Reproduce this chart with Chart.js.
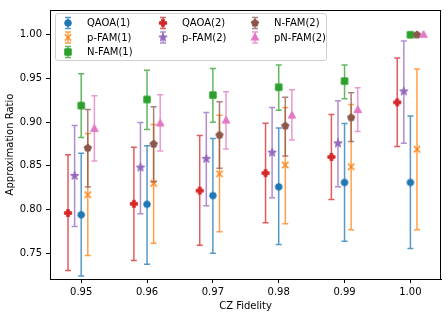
<!DOCTYPE html>
<html>
<head>
<meta charset="utf-8">
<style>
  html, body { margin: 0; padding: 0; background: #fff; }
  #chart { display: block; }
</style>
<script src="https://cdn.jsdelivr.net/npm/chart.js@4/dist/chart.umd.min.js"></script>
</head>
<body>
<canvas id="chart" width="448" height="317"></canvas>
<script>
const fidelities = [0.95, 0.96, 0.97, 0.98, 0.99, 1.00];
const xTicks = [0.95, 0.96, 0.97, 0.98, 0.99, 1.00];
const yTicks = [0.75, 0.80, 0.85, 0.90, 0.95, 1.00];

const seriesNames = ["QAOA(1)", "p-FAM(1)", "N-FAM(1)", "QAOA(2)", "p-FAM(2)", "N-FAM(2)", "pN-FAM(2)"];

const qaoa1Mean = [0.794, 0.806, 0.816, 0.826, 0.831, 0.831];
const qaoa1Low = [0.724, 0.7375, 0.750, 0.760, 0.7636, 0.7553];
const qaoa1High = [0.8644, 0.8731, 0.8814, 0.8932, 0.8985, 0.9072];

const pfam1Mean = [0.817, 0.830, 0.841, 0.851, 0.849, 0.869];
const pfam1Low = [0.7474, 0.7614, 0.7746, 0.7837, 0.7769, 0.7769];
const pfam1High = [0.8871, 0.8974, 0.9080, 0.9167, 0.9201, 0.9610];

const nfam1Mean = [0.919, 0.926, 0.931, 0.940, 0.947, 1.000];
const nfam1Low = [0.8826, 0.8917, 0.900, 0.9136, 0.9269, 1.000];
const nfam1High = [0.9553, 0.9595, 0.9614, 0.9655, 0.9655, 1.000];

const qaoa2Mean = [0.796, 0.8065, 0.8216, 0.8417, 0.8602, 0.9227];
const qaoa2Low = [0.7303, 0.7417, 0.7591, 0.7848, 0.8114, 0.8723];
const qaoa2High = [0.8628, 0.8712, 0.8848, 0.8989, 0.9087, 0.9735];

const pfam2Mean = [0.8386, 0.8481, 0.858, 0.8652, 0.8758, 0.9352];
const pfam2Low = [0.7807, 0.7951, 0.8042, 0.8136, 0.8261, 0.8758];
const pfam2High = [0.8962, 0.8996, 0.911, 0.9167, 0.9246, 0.9928];

const nfam2Mean = [0.8705, 0.875, 0.8852, 0.8958, 0.9053, 1.000];
const nfam2Low = [0.8258, 0.8318, 0.8474, 0.8614, 0.878, 1.000];
const nfam2High = [0.9144, 0.9178, 0.9235, 0.9284, 0.9337, 1.000];

const pnfam2Mean = [0.8924, 0.8985, 0.9019, 0.9076, 0.914, 1.000];
const pnfam2Low = [0.8557, 0.867, 0.8693, 0.8795, 0.8894, 1.000];
const pnfam2High = [0.9303, 0.9314, 0.9348, 0.9371, 0.9394, 1.000];

// horizontal shift of each series around its fidelity value
const xShift = [0, 0.001, 0, -0.002, -0.001, 0.001, 0.002];

const colors = ["#1f77b4", "#ff7f0e", "#2ca02c", "#d62728", "#9467bd", "#8c564b", "#e377c2"];
const shapes = ["circle", "x", "square", "plus", "star", "pentagon", "triangle"];

const means = [qaoa1Mean, pfam1Mean, nfam1Mean, qaoa2Mean, pfam2Mean, nfam2Mean, pnfam2Mean];
const lows = [qaoa1Low, pfam1Low, nfam1Low, qaoa2Low, pfam2Low, nfam2Low, pnfam2Low];
const highs = [qaoa1High, pfam1High, nfam1High, qaoa2High, pfam2High, nfam2High, pnfam2High];

const FONT = "'DejaVu Sans', sans-serif";
Chart.defaults.font.family = FONT;
Chart.defaults.font.size = 10;
Chart.defaults.color = "#000";

// matplotlib-like markers drawn on small canvases
function makeMarker(shape, color) {
  const s = 12;
  const c = document.createElement("canvas");
  c.width = s; c.height = s;
  const g = c.getContext("2d");
  g.translate(s / 2, s / 2);
  g.fillStyle = color;
  g.strokeStyle = color;
  g.lineWidth = 1;
  g.lineJoin = "miter";
  g.beginPath();
  if (shape === "circle") {
    g.arc(0, 0, 3.3, 0, Math.PI * 2);
  } else if (shape === "square") {
    g.rect(-3.2, -3.2, 6.4, 6.4);
  } else if (shape === "triangle") {
    g.moveTo(0, -4.2); g.lineTo(3.8, 2.6); g.lineTo(-3.8, 2.6); g.closePath();
  } else if (shape === "pentagon") {
    for (let k = 0; k < 5; k++) {
      const a = -Math.PI / 2 + k * 2 * Math.PI / 5;
      g.lineTo(3.8 * Math.cos(a), 3.8 * Math.sin(a));
    }
    g.closePath();
  } else if (shape === "star") {
    for (let k = 0; k < 10; k++) {
      const a = -Math.PI / 2 + k * Math.PI / 5;
      const r = k % 2 === 0 ? 4.4 : 1.8;
      g.lineTo(r * Math.cos(a), r * Math.sin(a));
    }
    g.closePath();
  } else if (shape === "plus") {
    const a = 3.6, b = 1.3;
    g.moveTo(-b, -a); g.lineTo(b, -a); g.lineTo(b, -b); g.lineTo(a, -b); g.lineTo(a, b);
    g.lineTo(b, b); g.lineTo(b, a); g.lineTo(-b, a); g.lineTo(-b, b); g.lineTo(-a, b);
    g.lineTo(-a, -b); g.lineTo(-b, -b); g.closePath();
  } else if (shape === "x") {
    g.lineWidth = 1.4;
    g.moveTo(-3.2, -3.2); g.lineTo(3.2, 3.2);
    g.moveTo(3.2, -3.2); g.lineTo(-3.2, 3.2);
    g.stroke();
    return c;
  }
  g.fill();
  g.stroke();
  return c;
}

function withAlpha(hex, a) {
  const n = parseInt(hex.slice(1), 16);
  return `rgba(${(n >> 16) & 255},${(n >> 8) & 255},${n & 255},${a})`;
}

const markers = shapes.map((s, i) => makeMarker(s, colors[i]));

const datasets = seriesNames.map((name, i) => ({
  label: name,
  data: fidelities.map((f, j) => ({ x: f + xShift[i], y: means[i][j], low: lows[i][j], high: highs[i][j] })),
  pointStyle: markers[i],
  pointRadius: 4,
  backgroundColor: colors[i],
  borderColor: colors[i],
  order: -i,
}));

function drawErrorBar(ctx, x, yLo, yHi, color, cap) {
  ctx.save();
  ctx.strokeStyle = color;
  ctx.lineWidth = 1.5;
  ctx.beginPath();
  ctx.moveTo(x, yLo); ctx.lineTo(x, yHi);
  ctx.moveTo(x - cap, yLo); ctx.lineTo(x + cap, yLo);
  ctx.moveTo(x - cap, yHi); ctx.lineTo(x + cap, yHi);
  ctx.stroke();
  ctx.restore();
}

const errorBars = {
  id: "errorBars",
  beforeDatasetDraw(chart, args) {
    const i = args.index;
    const ds = chart.data.datasets[i];
    const xs = chart.scales.x, ys = chart.scales.y;
    const ctx = chart.ctx;
    ds.data.forEach(p => {
      if (p.high - p.low < 1e-9) return;
      drawErrorBar(ctx, xs.getPixelForValue(p.x), ys.getPixelForValue(p.low),
        ys.getPixelForValue(p.high), withAlpha(colors[i], 0.75), 3);
    });
  },
};

// legend slots as matplotlib fills 7 entries into 3 columns
const legendCol = [0, 0, 0, 1, 1, 2, 2];
const legendRow = [0, 1, 2, 0, 1, 0, 1];

// frame on all four sides, and a column-major legend like matplotlib
const frameAndLegend = {
  id: "frameAndLegend",
  afterDraw(chart) {
    const ctx = chart.ctx;
    const a = chart.chartArea;
    ctx.save();
    ctx.strokeStyle = "#000";
    ctx.lineWidth = 1;
    ctx.beginPath();
    ctx.moveTo(a.left, Math.round(a.top) + 0.5);
    ctx.lineTo(a.right, Math.round(a.top) + 0.5);
    ctx.moveTo(Math.round(a.right) - 0.5, a.top);
    ctx.lineTo(Math.round(a.right) - 0.5, a.bottom);
    ctx.stroke();

    const box = { x: a.left + 5, y: a.top + 3, w: 271, h: 47 };
    ctx.beginPath();
    ctx.roundRect(box.x + 0.5, box.y + 0.5, box.w, box.h, 2.5);
    ctx.fillStyle = "rgba(255,255,255,0.8)";
    ctx.fill();
    ctx.strokeStyle = "#d0d0d0";
    ctx.stroke();

    const colX = [box.x + 13, box.x + 108, box.x + 200];
    const rowY = [box.y + 10, box.y + 24.5, box.y + 39];
    ctx.font = "10px " + FONT;
    ctx.textBaseline = "middle";
    ctx.textAlign = "left";
    seriesNames.forEach((name, i) => {
      const cx = colX[legendCol[i]];
      const cy = rowY[legendRow[i]];
      drawErrorBar(ctx, cx, cy + 5.5, cy - 5.5, withAlpha(colors[i], 0.75), 3);
      ctx.drawImage(markers[i], cx - markers[i].width / 2, cy - markers[i].height / 2);
      ctx.fillStyle = "#000";
      ctx.fillText(name, cx + 19, cy + 0.5);
    });
    ctx.restore();
  },
};

const tickFont = { family: FONT, size: 10 };

new Chart(document.getElementById("chart"), {
  type: "scatter",
  data: { datasets },
  options: {
    responsive: false,
    animation: false,
    layout: { padding: { top: 8, right: 7, left: 0, bottom: 0 } },
    plugins: { legend: { display: false }, tooltip: { enabled: false } },
    scales: {
      x: {
        type: "linear",
        min: 0.94526,
        max: 1.00465,
        afterBuildTicks: s => { s.ticks = xTicks.map(v => ({ value: v })); },
        afterFit: s => { s.height = 38; },
        ticks: { callback: v => v.toFixed(2), autoSkip: false, maxRotation: 0, padding: 3, color: "#000", font: tickFont },
        grid: { drawOnChartArea: false, tickLength: 4, color: "#000" },
        border: { color: "#000", width: 1 },
        title: { display: true, text: "CZ Fidelity", color: "#000", font: tickFont, padding: { top: 2, bottom: 5 } },
      },
      y: {
        min: 0.7205,
        max: 1.0284,
        afterBuildTicks: s => { s.ticks = yTicks.map(v => ({ value: v })); },
        afterFit: s => { s.width = 50; },
        ticks: { callback: v => v.toFixed(2), autoSkip: false, padding: 4, color: "#000", font: tickFont },
        grid: { drawOnChartArea: false, tickLength: 4, color: "#000" },
        border: { color: "#000", width: 1 },
        title: { display: true, text: "Approximation Ratio", color: "#000", font: tickFont, padding: { top: 4, bottom: 4 } },
      },
    },
  },
  plugins: [errorBars, frameAndLegend],
});
</script>
</body>
</html>
